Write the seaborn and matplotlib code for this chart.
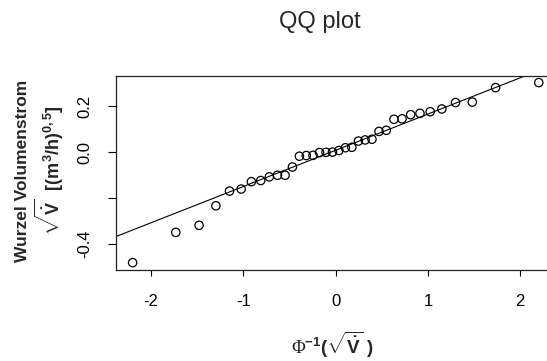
import matplotlib
matplotlib.use("Agg")
import matplotlib.pyplot as plt
import seaborn as sns
import pandas as pd

# theoretical normal quantiles (36 points) and sorted sample values
theoretical = [-2.200, -1.732, -1.480, -1.298, -1.150, -1.024, -0.913, -0.812, -0.719,
               -0.631, -0.548, -0.469, -0.393, -0.319, -0.246, -0.175, -0.105, -0.035,
               0.035, 0.105, 0.175, 0.246, 0.319, 0.393, 0.469, 0.548, 0.631, 0.719,
               0.812, 0.913, 1.024, 1.150, 1.298, 1.480, 1.732, 2.200]
sample = [-0.481, -0.349, -0.318, -0.233, -0.169, -0.160, -0.128, -0.123, -0.107,
          -0.100, -0.100, -0.064, -0.017, -0.014, -0.013, -0.001, 0.000, 0.001,
          0.008, 0.020, 0.022, 0.049, 0.054, 0.057, 0.091, 0.096, 0.144, 0.146,
          0.164, 0.170, 0.177, 0.189, 0.217, 0.219, 0.282, 0.304]
line_intercept = 0.009
line_slope = 0.158
x_ticks = [-2, -1, 0, 1, 2]
y_ticks = [-0.4, -0.2, 0.0, 0.2]
y_ticklabels = ["-0.4", "", "0.0", "0.2"]

sns.set_style("ticks")
plt.rcParams["font.family"] = ["Liberation Sans", "DejaVu Sans"]
plt.rcParams["mathtext.fontset"] = "custom"
plt.rcParams["mathtext.rm"] = "Liberation Serif"
plt.rcParams["mathtext.bf"] = "Liberation Sans:bold"
plt.rcParams["mathtext.it"] = "Liberation Sans:italic"

W, H = 547, 361
fig = plt.figure(figsize=(W / 100, H / 100), dpi=100)
left, right, top, bottom = 116, 560, 75.7, 270
ax = fig.add_axes([left / W, 1 - bottom / H, (right - left) / W, (bottom - top) / H])

df = pd.DataFrame({"theoretical": theoretical, "sample": sample})
sns.scatterplot(data=df, x="theoretical", y="sample", ax=ax, marker="o",
                s=36, facecolor="none", edgecolor="black", linewidth=0.9)
ax.axline((0, line_intercept), slope=line_slope, color="black", lw=0.8)

ax.set_xlim(-2.380, 2.430)
ax.set_ylim(-0.513, 0.334)
ax.set_xticks(x_ticks)
ax.set_xticklabels([str(t) for t in x_ticks])
ax.set_yticks(y_ticks)
ax.set_yticklabels(y_ticklabels, rotation=90, va="center")
ax.tick_params(axis="x", length=4, width=0.8, pad=13, labelsize=12, colors="black")
ax.tick_params(axis="y", length=6, width=0.8, pad=11, labelsize=12, colors="black")
for side in ["left", "bottom", "top", "right"]:
    ax.spines[side].set_visible(True)
    ax.spines[side].set_linewidth(0.9)
    ax.spines[side].set_color("#222222")
ax.set_xlabel("")
ax.set_ylabel("")

fig.text(320 / W, 1 - 22 / H, "QQ plot", ha="center", va="center", fontsize=17)
fig.text(333 / W, 1 - 345 / H, r"$\Phi^{\mathbf{-1}}\mathbf{(}\sqrt{\mathbf{\dot{V}}}\ \mathbf{)}$",
         ha="center", va="center", fontsize=13.5)
fig.text(23 / W, 1 - 171 / H, "Wurzel Volumenstrom", rotation=90, ha="center",
         va="center", fontsize=12.5, fontweight="bold")
fig.text(49 / W, 1 - 171 / H,
         r"$\sqrt{\mathbf{\dot{V}}}\ \ \mathbf{[(m^3/h)^{0,5}]}$",
         rotation=90, ha="center", va="center", fontsize=13, fontweight="bold")

fig.savefig("out.png", dpi=100)
